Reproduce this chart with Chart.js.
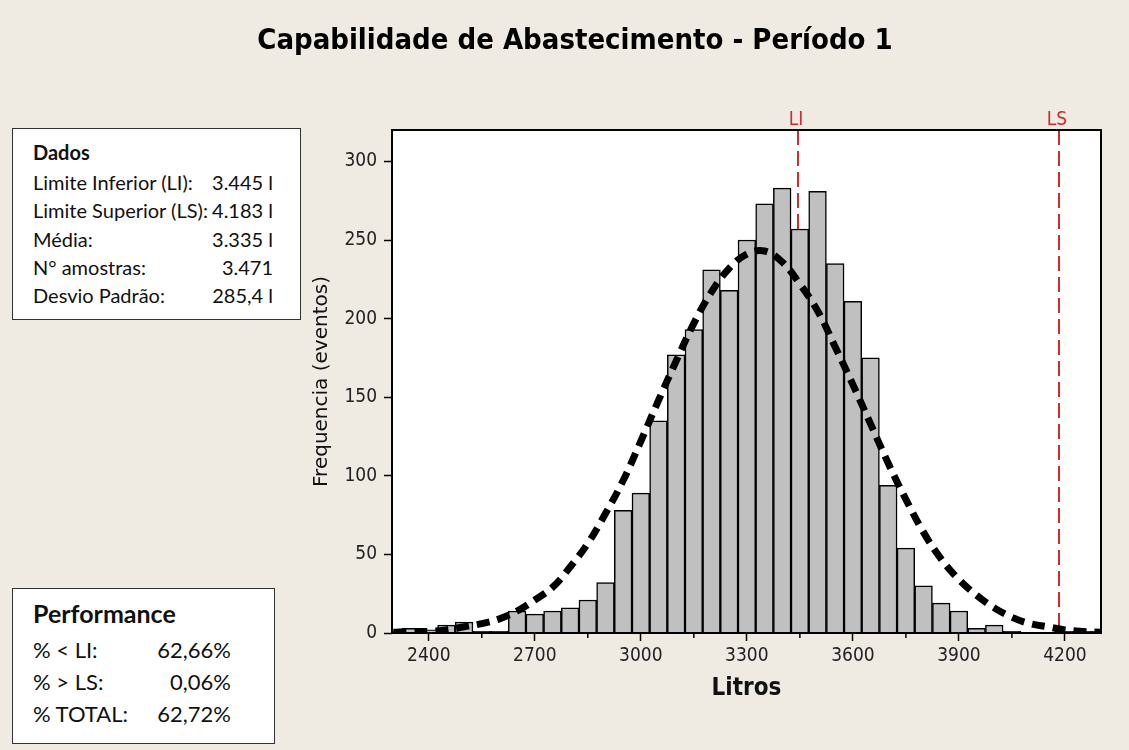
<!DOCTYPE html>
<html>
<head>
<meta charset="utf-8">
<script src="https://cdn.jsdelivr.net/npm/chart.js@4.4.1/dist/chart.umd.min.js"></script>
<style>
  body { margin: 0; background: #efebe3; }
  #wrap { position: relative; width: 1129px; height: 750px; overflow: hidden; }
  #chart { position: absolute; left: 0; top: 0; }
  .title {
    position: absolute; left: 0; top: 25px; width: 1150px; text-align: center;
    font: bold 29px 'DejaVu Sans Condensed', 'DejaVu Sans', sans-serif; line-height: 1; color: #000;
  }
  .box { position: absolute; background: #fff; border: 1.5px solid #333; box-sizing: border-box; }
  .t { position: absolute; font-family: Lato, 'Noto Sans', sans-serif; color: #111; white-space: nowrap; }
  .r { text-align: right; }
</style>
</head>
<body>
<div id="wrap">
  <canvas id="chart" width="1129" height="750"></canvas>
  <div class="title">Capabilidade de Abastecimento - Período 1</div>

  <div class="box" style="left:12px;top:128px;width:289px;height:192px;"></div>
  <div class="t" style="left:33px;top:140px;font-size:20px;line-height:24px;font-weight:bold;">Dados</div>
  <div id="dados"></div>

  <div class="box" style="left:12px;top:588px;width:263px;height:156px;"></div>
  <div class="t" style="left:33px;top:598px;font-size:25px;line-height:30px;font-weight:bold;">Performance</div>
  <div id="perf"></div>
</div>

<script>
// histogram bins (centre of each 50 l class) and counts
const binCenters = [2300, 2350, 2400, 2450, 2500, 2550, 2600, 2650, 2700, 2750,
                    2800, 2850, 2900, 2950, 3000, 3050, 3100, 3150, 3200, 3250,
                    3300, 3350, 3400, 3450, 3500, 3550, 3600, 3650, 3700, 3750,
                    3800, 3850, 3900, 3950, 4000, 4050, 4100, 4150, 4200, 4250, 4300];
const binCounts = [1, 3, 2, 5, 7, 1, 1, 14, 12, 14,
                   16, 21, 32, 78, 89, 135, 177, 193, 231, 218,
                   250, 273, 283, 257, 281, 235, 211, 175, 94, 54,
                   30, 19, 14, 3, 5, 1, 0, 0, 1, 1, 1];

// fitted normal curve
const curveX = [2300, 2350, 2400, 2450, 2500, 2550, 2600, 2650, 2700, 2750,
                2800, 2850, 2900, 2950, 3000, 3050, 3100, 3150, 3200, 3250,
                3300, 3350, 3400, 3450, 3500, 3550, 3600, 3650, 3700, 3750,
                3800, 3850, 3900, 3950, 4000, 4050, 4100, 4150, 4200, 4250, 4300];
const curveY = [0.5, 1, 1, 2, 4, 6, 9, 14, 21, 29,
                42, 57, 76, 97, 122, 148, 173, 197, 217, 232,
                241, 243, 236, 222, 205, 182, 158, 133, 108, 85,
                64, 47, 34, 24, 16, 10, 6, 4, 2, 1, 0.5];

// spec limits
const limitLabels = ['LI', 'LS'];
const limitValues = [3445, 4183];

const xMajorTicks = [2400, 2700, 3000, 3300, 3600, 3900, 4200];
const xMinorTicks = [2550, 2850, 3150, 3450, 3750, 4050];
const yTicks = [0, 50, 100, 150, 200, 250, 300];

const dadosRows = [
  ['Limite Inferior (LI):', '3.445 l'],
  ['Limite Superior (LS):', '4.183 l'],
  ['Média:', '3.335 l'],
  ['N° amostras:', '3.471'],
  ['Desvio Padrão:', '285,4 l'],
];
const perfRows = [
  ['% < LI:', '62,66%'],
  ['% > LS:', '0,06%'],
  ['% TOTAL:', '62,72%'],
];

// side boxes
function fillRows(el, rows, top0, step, size, lh, right) {
  let html = '';
  rows.forEach((r, i) => {
    const top = top0 + i * step;
    html += `<div class="t" style="left:33px;top:${top}px;font-size:${size}px;line-height:${lh}px;">${r[0]}</div>`;
    html += `<div class="t r" style="left:${right - 100}px;width:100px;top:${top}px;font-size:${size}px;line-height:${lh}px;">${r[1]}</div>`;
  });
  document.getElementById(el).innerHTML = html;
}
fillRows('dados', dadosRows, 170, 28.3, 20, 24, 273);
fillRows('perf', perfRows, 637, 32, 22, 26, 231);

const tickFont = { family: "'DejaVu Sans Condensed', 'DejaVu Sans', sans-serif", size: 19 };
const limitColor = '#d22b2b';

const frame = {
  id: 'frame',
  beforeDraw(chart) {
    const { ctx, chartArea: a } = chart;
    ctx.save();
    ctx.fillStyle = '#fff';
    ctx.fillRect(a.left, a.top, a.right - a.left, a.bottom - a.top);
    ctx.restore();
  },
  beforeDatasetsDraw(chart) {
    const { ctx, chartArea: a, scales: { x } } = chart;
    ctx.save();
    ctx.strokeStyle = limitColor;
    ctx.lineWidth = 2;
    ctx.setLineDash([15, 6]);
    limitValues.forEach(v => {
      const px = Math.round(x.getPixelForValue(v));
      ctx.beginPath();
      ctx.moveTo(px, a.top);
      ctx.lineTo(px, a.bottom);
      ctx.stroke();
    });
    ctx.setLineDash([]);
    ctx.fillStyle = limitColor;
    ctx.font = "19px 'DejaVu Sans Condensed', 'DejaVu Sans', sans-serif";
    ctx.textAlign = 'center';
    ctx.textBaseline = 'alphabetic';
    limitValues.forEach((v, i) => {
      ctx.fillText(limitLabels[i], x.getPixelForValue(v) - 2, a.top - 5);
    });
    ctx.restore();
  },
  afterDraw(chart) {
    const { ctx, chartArea: a, scales: { x } } = chart;
    ctx.save();
    ctx.strokeStyle = '#000';
    ctx.lineWidth = 2;
    ctx.strokeRect(a.left, a.top, a.right - a.left, a.bottom - a.top);
    ctx.lineWidth = 1.5;
    xMinorTicks.forEach(v => {
      const px = x.getPixelForValue(v);
      ctx.beginPath();
      ctx.moveTo(px, a.bottom);
      ctx.lineTo(px, a.bottom + 5);
      ctx.stroke();
    });
    ctx.restore();
  }
};

new Chart(document.getElementById('chart'), {
  type: 'bar',
  data: {
    datasets: [{
      type: 'line',
      order: 0,
      data: curveX.map((v, i) => ({ x: v, y: curveY[i] })),
      borderColor: '#000',
      borderWidth: 7,
      borderDash: [13, 8],
      pointRadius: 0,
      tension: 0.4,
      fill: false,
    }, {
      type: 'bar',
      order: 1,
      data: binCenters.map((v, i) => ({ x: v, y: binCounts[i] })),
      backgroundColor: '#c0c0c0',
      borderColor: '#000',
      borderWidth: 1.5,
      barPercentage: 1,
      categoryPercentage: 1,
    }],
  },
  options: {
    responsive: false,
    animation: false,
    events: [],
    layout: { padding: { left: 305, top: 130, right: 28, bottom: 47 } },
    plugins: { legend: { display: false }, tooltip: { enabled: false } },
    scales: {
      x: {
        type: 'linear',
        min: 2296,
        max: 4302,
        offset: false,
        afterFit: s => { s.height = 70; },
        afterBuildTicks: s => { s.ticks = xMajorTicks.map(v => ({ value: v })); },
        ticks: { font: tickFont, color: '#222', padding: 4, maxRotation: 0, callback: v => String(v) },
        grid: { offset: false, drawOnChartArea: false, tickLength: 8, tickWidth: 1.5, tickColor: '#000' },
        border: { display: false },
        title: { display: true, text: 'Litros', color: '#111', padding: { top: 0, bottom: 0 },
                 font: { family: "'DejaVu Sans Condensed', 'DejaVu Sans', sans-serif", size: 24, weight: 'bold' } },
      },
      y: {
        min: 0,
        max: 320,
        afterFit: s => { s.width = 87; },
        afterBuildTicks: s => { s.ticks = yTicks.map(v => ({ value: v })); },
        ticks: { font: tickFont, color: '#222', padding: 7 },
        grid: { drawOnChartArea: false, tickLength: 8, tickWidth: 1.5, tickColor: '#000' },
        border: { display: false },
        title: { display: true, text: 'Frequencia (eventos)', color: '#111', padding: { top: 5, bottom: 0 },
                 font: { family: "'DejaVu Sans', sans-serif", size: 20 } },
      },
    },
  },
  plugins: [frame],
});
</script>
</body>
</html>
